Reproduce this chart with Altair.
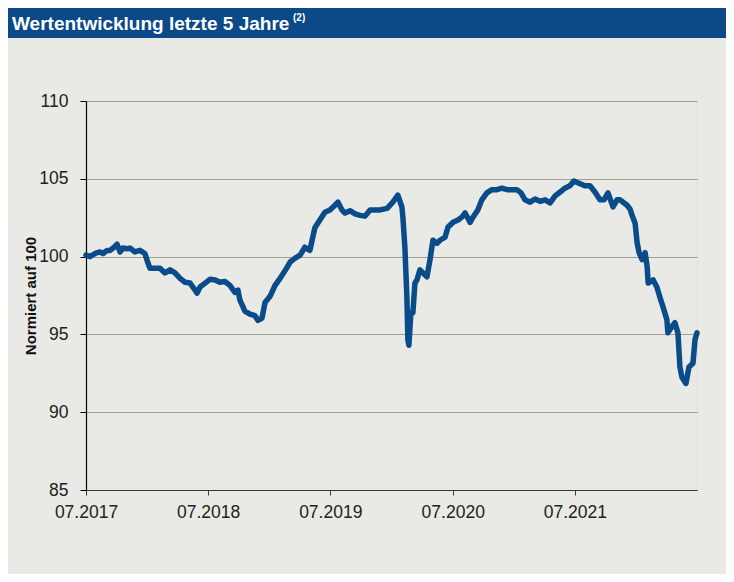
import altair as alt
import pandas as pd

TITLE = "Wertentwicklung letzte 5 Jahre"
TITLE_NOTE = "(2)"
Y_TITLE = "Normiert auf 100"

dates = [
    "2017-07-01", "2017-07-13", "2017-07-28", "2017-08-12", "2017-08-21", "2017-09-02",
    "2017-09-11", "2017-09-23", "2017-10-02", "2017-10-11", "2017-10-20", "2017-11-01",
    "2017-11-09", "2017-11-24", "2017-12-09", "2017-12-24", "2018-01-02", "2018-01-08",
    "2018-01-23", "2018-02-07", "2018-02-22", "2018-03-09", "2018-03-24", "2018-04-08",
    "2018-04-23", "2018-05-08", "2018-05-23", "2018-05-29", "2018-06-07", "2018-06-22",
    "2018-07-07", "2018-07-22", "2018-08-05", "2018-08-20", "2018-09-04", "2018-09-19",
    "2018-09-28", "2018-10-04", "2018-10-19", "2018-11-03", "2018-11-18", "2018-11-27",
    "2018-12-09", "2018-12-18", "2019-01-02", "2019-01-17", "2019-02-01", "2019-02-16",
    "2019-03-03", "2019-03-18", "2019-04-02", "2019-04-16", "2019-05-01", "2019-05-16",
    "2019-05-31", "2019-06-15", "2019-06-30", "2019-07-15", "2019-07-24", "2019-08-05",
    "2019-08-14", "2019-08-29", "2019-09-13", "2019-09-28", "2019-10-13", "2019-10-28",
    "2019-11-12", "2019-11-27", "2019-12-18", "2020-01-04", "2020-01-19", "2020-01-31",
    "2020-02-03", "2020-02-09", "2020-02-15", "2020-02-18", "2020-02-21", "2020-02-27",
    "2020-03-04", "2020-03-10", "2020-03-16", "2020-03-25", "2020-04-03", "2020-04-15",
    "2020-04-24", "2020-05-03", "2020-05-15", "2020-05-24", "2020-06-08", "2020-06-17",
    "2020-07-02", "2020-07-17", "2020-07-29", "2020-08-07", "2020-08-22", "2020-08-31",
    "2020-09-14", "2020-09-26", "2020-10-11", "2020-10-26", "2020-11-10", "2020-11-25",
    "2020-12-10", "2020-12-25", "2021-01-09", "2021-01-21", "2021-02-02", "2021-02-17",
    "2021-03-04", "2021-03-19", "2021-04-03", "2021-04-18", "2021-05-03", "2021-05-18",
    "2021-06-01", "2021-06-16", "2021-06-28", "2021-07-10", "2021-07-31", "2021-08-15",
    "2021-08-30", "2021-09-14", "2021-09-26", "2021-10-08", "2021-10-23", "2021-11-04",
    "2021-11-13", "2021-12-04", "2021-12-13", "2021-12-19", "2021-12-28", "2022-01-03",
    "2022-01-09", "2022-01-18", "2022-01-27", "2022-02-02", "2022-02-05", "2022-02-20",
    "2022-03-03", "2022-03-12", "2022-03-21", "2022-04-02", "2022-04-05", "2022-04-17",
    "2022-04-26", "2022-05-05", "2022-05-11", "2022-05-17", "2022-05-29", "2022-06-07",
    "2022-06-19", "2022-06-25", "2022-07-01",
]

values = [
    100.10, 100.00, 100.20, 100.30, 100.20, 100.40,
    100.40, 100.60, 100.80, 100.30, 100.55, 100.50,
    100.55, 100.30, 100.40, 100.20, 99.60, 99.25,
    99.25, 99.25, 98.95, 99.15, 98.95, 98.60,
    98.35, 98.30, 97.85, 97.65, 98.05, 98.30,
    98.55, 98.50, 98.35, 98.40, 98.15, 97.70,
    97.85, 97.20, 96.50, 96.30, 96.20, 95.90,
    96.05, 97.05, 97.45, 98.15, 98.60, 99.10,
    99.65, 99.90, 100.10, 100.60, 100.40, 101.85,
    102.35, 102.85, 103.00, 103.30, 103.50, 103.00,
    102.80, 102.95, 102.75, 102.65, 102.60, 103.00,
    103.00, 103.00, 103.10, 103.50, 103.95, 103.20,
    102.55, 100.60, 97.40, 94.65, 94.30, 96.40,
    96.40, 98.30, 98.50, 99.15, 98.95, 98.70,
    99.80, 101.05, 100.85, 101.05, 101.25, 101.90,
    102.20, 102.35, 102.55, 102.80, 102.20, 102.55,
    103.00, 103.65, 104.10, 104.30, 104.30, 104.40,
    104.30, 104.30, 104.30, 104.10, 103.65, 103.50,
    103.70, 103.55, 103.65, 103.45, 103.90, 104.15,
    104.40, 104.55, 104.85, 104.75, 104.55, 104.55,
    104.15, 103.65, 103.65, 104.10, 103.20, 103.65,
    103.65, 103.30, 103.05, 102.65, 102.15, 100.90,
    100.25, 99.80, 100.25, 99.35, 98.30, 98.50,
    98.05, 97.40, 96.80, 95.95, 95.10, 95.50,
    95.75, 95.10, 92.90, 92.25, 91.85, 92.90,
    93.15, 94.65, 95.10,
]

y_ticks = [85, 90, 95, 100, 105, 110]
x_tick_years = [2017, 2018, 2019, 2020, 2021]

BLUE = "#0b4a87"
LINE_BLUE = "#0a4b89"
BG = "#e9e9e5"
FONT = "Liberation Sans"

W, H = 611, 389
PAD = {"left": 78, "top": 93, "right": 29, "bottom": 84}

df = pd.DataFrame({"date": dates, "value": values})

line = alt.Chart(df).mark_line(
    color=LINE_BLUE, strokeWidth=5.5, strokeJoin="round", strokeCap="round"
).encode(
    x=alt.X(
        "date:T",
        scale=alt.Scale(
            type="utc",
            domain=[alt.DateTime(year=2017, month=7, date=1, utc=True),
                    alt.DateTime(year=2022, month=7, date=1, utc=True)],
        ),
        axis=alt.Axis(
            values=[alt.DateTime(year=y, month=7, date=1, utc=True) for y in x_tick_years],
            format="%m.%Y",
            title=None,
            grid=False,
            domainColor="#3a3a3a",
            domainWidth=1.2,
            tickColor="#3a3a3a",
            tickSize=5,
            labelFontSize=17.5,
            labelColor="#222222",
            labelPadding=8,
            labelFont=FONT,
            labelFlush=False,
        ),
    ),
    y=alt.Y(
        "value:Q",
        scale=alt.Scale(domain=[85, 110], nice=False, zero=False),
        axis=alt.Axis(
            values=y_ticks,
            title=Y_TITLE,
            titleFont=FONT,
            titleFontSize=15,
            titleFontWeight="bold",
            titleColor="#111111",
            titleX=-56,
            titleY=H / 2,
            titleAngle=270,
            titleAlign="center",
            titleBaseline="middle",
            grid=True,
            gridColor="#a39e92",
            gridWidth=1.2,
            domainColor="#000000",
            domainWidth=1.2,
            tickColor="#000000",
            tickSize=6,
            labelFontSize=17.5,
            labelColor="#222222",
            labelPadding=12,
            labelFont=FONT,
        ),
    ),
)

bar = alt.Chart(alt.Data(values=[{"k": 1}])).mark_rect(color=BLUE).encode(
    x=alt.value(-PAD["left"]),
    x2=alt.value(W + PAD["right"]),
    y=alt.value(-PAD["top"]),
    y2=alt.value(-PAD["top"] + 30),
)

title_text = alt.Chart(alt.Data(values=[{"t": TITLE}])).mark_text(
    align="left", baseline="alphabetic", font=FONT, fontSize=19,
    fontWeight="bold", color="white",
).encode(text="t:N", x=alt.value(-74), y=alt.value(-71))

note_text = alt.Chart(alt.Data(values=[{"t": TITLE_NOTE}])).mark_text(
    align="left", baseline="alphabetic", font=FONT, fontSize=10,
    fontWeight="bold", color="white",
).encode(text="t:N", x=alt.value(207), y=alt.value(-80))

chart = alt.layer(bar, title_text, note_text, line).properties(
    width=W,
    height=H,
    autosize=alt.AutoSizeParams(type="none"),
    padding=PAD,
    background=BG,
).configure_view(stroke=None).configure(font=FONT)

chart.save("out.html", embed_options={"renderer": "svg", "actions": False})
